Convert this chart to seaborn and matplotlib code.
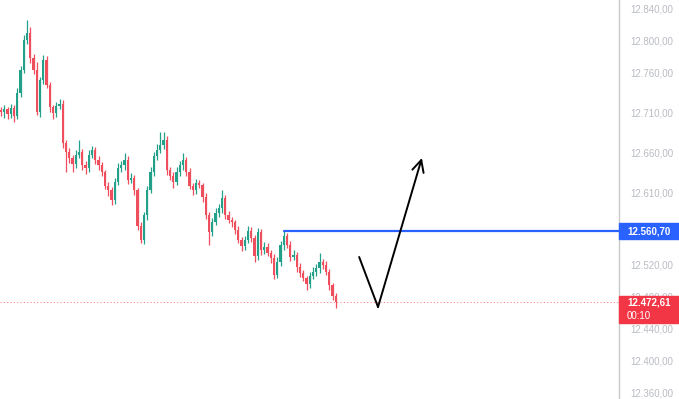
import numpy as np
import pandas as pd
import matplotlib
matplotlib.use("Agg")
import matplotlib.pyplot as plt
import matplotlib.transforms as mtransforms
from matplotlib.patches import Rectangle
import seaborn as sns

# candle closes (oldest -> newest)
closes = [
    12710, 12713.8, 12707.5, 12715, 12705, 12733.8, 12762.5, 12800, 12808.8, 12777.5,
    12762.5, 12710, 12750, 12775, 12743.8, 12716.3, 12708.8, 12717.5, 12720, 12671.3,
    12660, 12652.5, 12645, 12656.3, 12660, 12643.8, 12640, 12656.3, 12662.5, 12650,
    12643.8, 12635, 12617.5, 12612.5, 12600, 12622.5, 12640, 12643.8, 12650, 12625,
    12627.5, 12612.5, 12567.5, 12550, 12581.3, 12612.5, 12635, 12655, 12662.5, 12668.8,
    12675, 12637.5, 12630, 12622.5, 12635, 12643.8, 12650, 12635, 12617.5, 12612.5,
    12621.3, 12618.8, 12603.8, 12581.3, 12560, 12572.5, 12583.8, 12590, 12602.5, 12581.3,
    12575, 12572.5, 12562.5, 12550, 12542.5, 12550, 12561.3, 12552.5, 12530, 12560,
    12537.5, 12541.3, 12533.8, 12527.5, 12506.3, 12522.5, 12543.8, 12555, 12543.8, 12528.8,
    12531.3, 12516.3, 12508.8, 12502.5, 12495, 12505, 12510, 12515, 12522.5, 12518.8,
    12510, 12493.8, 12480, 12472.61,
]
first_open = 12712.0

upper_wick = [
    4, 5, 3, 5, 4, 6, 5, 6, 16, 8,
    5, 10, 4, 6, 5, 4, 3, 5, 6, 5,
    4, 5, 4, 6, 15, 4, 5, 6, 5, 4,
    5, 4, 3, 5, 4, 5, 6, 5, 9, 5,
    6, 4, 3, 5, 4, 5, 6, 5, 7, 16,
    10, 5, 4, 5, 6, 5, 9, 4, 5, 4,
    5, 4, 3, 5, 4, 5, 6, 5, 10, 4,
    5, 4, 3, 5, 4, 5, 6, 5, 4, 5,
    4, 6, 5, 4, 5, 6, 5, 6, 4, 5,
    6, 4, 5, 4, 3, 5, 6, 5, 11, 4,
    5, 4, 3, 4,
]
lower_wick = [
    5, 8, 6, 5, 7, 4, 5, 4, 5, 6,
    5, 4, 6, 5, 4, 6, 7, 5, 4, 6,
    25, 6, 10, 5, 4, 6, 8, 5, 4, 5,
    6, 5, 4, 7, 6, 5, 4, 5, 6, 5,
    4, 6, 5, 4, 5, 6, 4, 5, 5, 4,
    5, 6, 5, 7, 4, 5, 6, 5, 4, 6,
    5, 4, 6, 5, 16, 5, 4, 5, 6, 5,
    4, 6, 5, 4, 6, 5, 4, 5, 8, 5,
    6, 5, 4, 6, 5, 4, 5, 6, 4, 5,
    4, 6, 5, 4, 7, 5, 4, 5, 6, 5,
    4, 6, 5, 8,
]

price_ticks = [12360, 12400, 12440, 12480, 12520, 12610, 12660, 12710, 12760, 12800, 12840]
level_price = 12560.70
level_start = 87
last_price = 12472.61
timer_text = "00:10"
arrow_x = [110.2, 116.0, 129.5]
arrow_y = [12528.75, 12466.25, 12652.5]

UP = "#22a08a"
DOWN = "#ef4f5c"


def fmt(v):
    s = f"{v:,.2f}"
    return s.replace(",", "X").replace(".", ",").replace("X", ".")


df = pd.DataFrame({"close": closes, "up": upper_wick, "dn": lower_wick})
df["open"] = [first_open] + closes[:-1]
df["high"] = df[["open", "close"]].max(axis=1) + df["up"]
df["low"] = df[["open", "close"]].min(axis=1) - df["dn"]
df["idx"] = np.arange(len(df))
df["color"] = np.where(df["close"] >= df["open"], UP, DOWN)

sns.set_theme(style="white")
plt.rcParams["font.family"] = ["Liberation Sans", "DejaVu Sans"]

fig = plt.figure(figsize=(6.79, 3.99), dpi=100)
ax = fig.add_axes([0, 0, 619 / 679, 1])

# wicks + bodies
ax.vlines(df["idx"], df["low"], df["high"], colors=df["color"], lw=0.9, zorder=2)
body = (df["close"] - df["open"]).abs().clip(lower=0.8)
ax.bar(df["idx"], body, bottom=df[["open", "close"]].min(axis=1),
       width=0.74, color=df["color"], linewidth=0, zorder=3)

# horizontal level + last price line
ax.plot([level_start, 400], [level_price, level_price], color="#2962ff", lw=1.6, zorder=4)
ax.axhline(last_price, color="#f7525f", lw=0.8, ls=(0, (1, 2)), alpha=0.7, zorder=1)

# hand drawn arrow
sns.lineplot(x=arrow_x[:2], y=arrow_y[:2], color="black", lw=1.4, ax=ax, zorder=5)
ax.annotate("", xy=(arrow_x[2], arrow_y[2]), xytext=(arrow_x[1], arrow_y[1]),
            arrowprops=dict(arrowstyle="->,head_length=0.6,head_width=0.3",
                            color="black", lw=1.4, mutation_scale=14,
                            shrinkA=0, shrinkB=0), zorder=5)

ax.set_xlim(-0.31, 190.15)
ax.set_ylim(12351.25, 12850)
ax.set_xticks([])
ax.yaxis.tick_right()
ax.set_yticks(price_ticks)
ax.set_yticklabels([fmt(v) for v in price_ticks])
ax.tick_params(axis="y", length=0, pad=8, labelsize=7, labelcolor="#b8bbc2")
for s in ["top", "left", "bottom"]:
    ax.spines[s].set_visible(False)
ax.spines["right"].set_color("#c9c9c9")
ax.spines["right"].set_linewidth(1)

# price labels on the scale
tr = mtransforms.blended_transform_factory(ax.transAxes, ax.transData)
w = 60 / 619
tx = 1.0 + 8 / 619
ax.add_patch(Rectangle((1.0, level_price - 10), w, 20, transform=tr,
                       color="#2962ff", clip_on=False, zorder=6))
ax.text(tx, level_price, fmt(level_price), transform=tr, color="white",
        fontsize=7, fontweight="bold", va="center", ha="left", zorder=7, clip_on=False)
ax.add_patch(Rectangle((1.0, 12446.25), w, 33.75, transform=tr,
                       color="#f23645", clip_on=False, zorder=6))
ax.text(tx, 12471.5, fmt(last_price), transform=tr, color="white",
        fontsize=7, fontweight="bold", va="center", ha="left", zorder=7, clip_on=False)
ax.text(tx, 12455.5, timer_text, transform=tr, color="white",
        fontsize=7, va="center", ha="left", zorder=7, clip_on=False)

fig.savefig("out.png", dpi=100)
